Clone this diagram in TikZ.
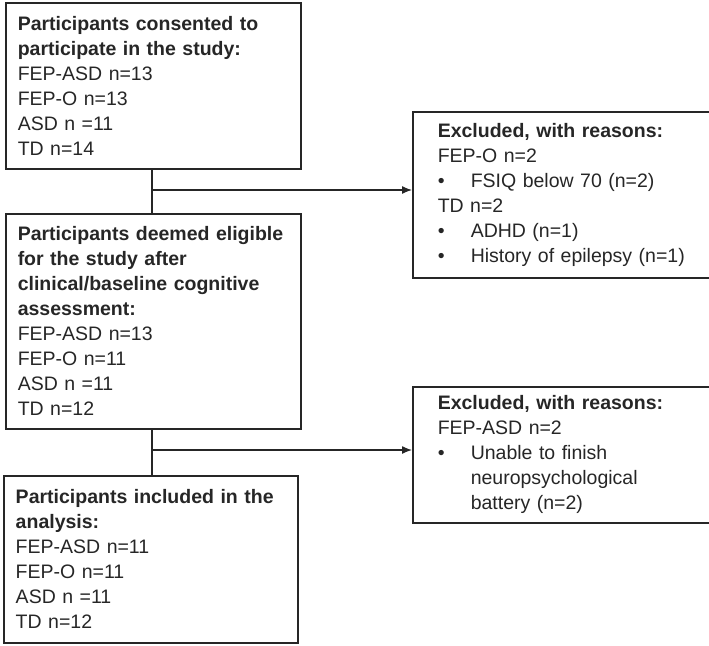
\documentclass[tikz,border=0pt]{standalone}
\usepackage{fontspec}
\setmainfont{Liberation Sans}
\usetikzlibrary{arrows.meta}

\begin{document}
\begin{tikzpicture}[x=1pt,y=-1pt,
  every node/.style={font=\fontsize{19.5}{25}\selectfont, text=black!85},
  flowbox/.style={draw=black!85, line width=1.5pt, anchor=north west, align=left,
    inner xsep=12pt, inner ysep=0pt},
  link/.style={draw=black!85, line width=1.3pt}]
\useasboundingbox (0,0) rectangle (709,645);
% main column
\node[flowbox, minimum width=295pt, minimum height=166pt, text width=271pt] (consent) at (5,2)
  {\textbf{Participants consented to}\\\textbf{participate in the study:}\\FEP-ASD n=13\\FEP-O n=13\\ASD n =11\\TD n=14};
\node[flowbox, minimum width=295pt, minimum height=215pt, text width=271pt] (eligible) at (5,213)
  {\textbf{Participants deemed eligible}\\\textbf{for the study after}\\\textbf{clinical/baseline cognitive}\\\textbf{assessment:}\\FEP-ASD n=13\\FEP-O n=11\\ASD n =11\\TD n=12};
\node[flowbox, minimum width=294pt, minimum height=167pt, text width=270pt] (included) at (3,475)
  {\textbf{Participants included in the}\\\textbf{analysis:}\\FEP-ASD n=11\\FEP-O n=11\\ASD n =11\\TD n=12};
% exclusions
\node[flowbox, minimum width=295pt, minimum height=166pt, text width=258pt, inner xsep=25pt] (excl1) at (412,111)
  {\textbf{Excluded, with reasons:}\\FEP-O n=2\\\makebox[33pt][l]{\textbullet}FSIQ below 70 (n=2)\\TD n=2\\\makebox[33pt][l]{\textbullet}ADHD (n=1)\\\makebox[33pt][l]{\textbullet}History of epilepsy (n=1)};
\node[flowbox, minimum width=295pt, minimum height=136pt, text width=258pt, inner xsep=25pt] (excl2) at (412,386)
  {\textbf{Excluded, with reasons:}\\FEP-ASD n=2\\\makebox[33pt][l]{\textbullet}Unable to finish\\\hspace*{33pt}neuropsychological\\\hspace*{33pt}battery (n=2)};
% connectors
\coordinate (split1) at (152,190);
\coordinate (split2) at (152,450);
\draw[link] (consent.south -| split1) -- (eligible.north -| split1);
\draw[link] (eligible.south -| split2) -- (included.north -| split2);
\draw[link, -{Latex[length=10pt,width=8pt]}] (split1) -- (split1 -| excl1.west);
\draw[link, -{Latex[length=10pt,width=8pt]}] (split2) -- (split2 -| excl2.west);
\end{tikzpicture}
\end{document}
